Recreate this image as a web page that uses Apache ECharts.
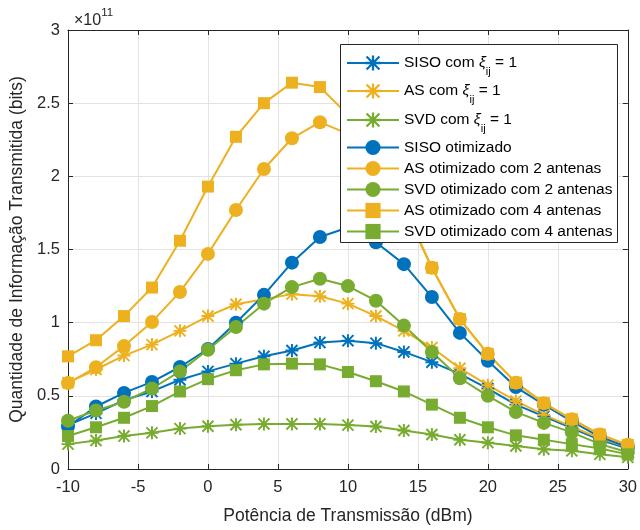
<!DOCTYPE html>
<html>
<head>
<meta charset="utf-8">
<script src="https://cdn.jsdelivr.net/npm/echarts@6/dist/echarts.min.js"></script>
<style>html,body{margin:0;padding:0;background:#fff}#c{width:640px;height:530px}</style>
</head>
<body>
<div id="c"></div>
<script>
// x values (dBm)
const xs = [-10,-8,-6,-4,-2,0,2,4,6,8,10,12,14,16,18,20,22,24,26,28,30];
// y values in units of 10^11 bits
const sisoXi  = [0.30,0.38,0.47,0.53,0.61,0.667,0.72,0.77,0.81,0.865,0.877,0.86,0.80,0.73,0.65,0.55,0.44,0.36,0.28,0.20,0.14];
const asXi    = [0.59,0.68,0.775,0.85,0.944,1.045,1.126,1.16,1.195,1.18,1.13,1.045,0.944,0.83,0.688,0.573,0.465,0.37,0.29,0.21,0.15];
const svdXi   = [0.17,0.195,0.225,0.247,0.276,0.292,0.303,0.308,0.308,0.308,0.30,0.29,0.263,0.236,0.20,0.18,0.157,0.135,0.124,0.10,0.08];
const sisoOpt = [0.29,0.427,0.52,0.595,0.697,0.82,1.0,1.19,1.41,1.585,1.65,1.55,1.40,1.175,0.93,0.74,0.56,0.44,0.326,0.22,0.15];
const asOpt2  = [0.587,0.695,0.84,1.005,1.21,1.47,1.77,2.05,2.26,2.37,2.29,2.07,1.78,1.375,1.025,0.787,0.59,0.45,0.34,0.236,0.165];
const svdOpt2 = [0.33,0.40,0.46,0.55,0.667,0.815,0.97,1.13,1.243,1.30,1.25,1.15,0.98,0.80,0.62,0.50,0.39,0.315,0.25,0.17,0.115];
const asOpt4  = [0.77,0.88,1.045,1.24,1.56,1.93,2.27,2.50,2.64,2.61,2.42,2.12,1.80,1.375,1.025,0.787,0.59,0.45,0.34,0.236,0.165];
const svdOpt4 = [0.225,0.285,0.35,0.43,0.53,0.614,0.675,0.715,0.72,0.715,0.663,0.60,0.53,0.44,0.35,0.285,0.23,0.20,0.17,0.14,0.10];

const names = [
  'SISO com ξij = 1','AS com ξij = 1','SVD com ξij = 1',
  'SISO otimizado','AS otimizado com 2 antenas','SVD otimizado com 2 antenas',
  'AS otimizado com 4 antenas','SVD otimizado com 4 antenas'
];
const datasets = [sisoXi, asXi, svdXi, sisoOpt, asOpt2, svdOpt2, asOpt4, svdOpt4];

const BLUE = '#0072BD', ORANGE = '#EDB120', GREEN = '#77AC30';
const colors = [BLUE, ORANGE, GREEN, BLUE, ORANGE, GREEN, ORANGE, GREEN];
const AST = 'path://M0 8.5H20V11.5H0Z M8.5 0H11.5V20H8.5Z M2.56 0.44L19.56 17.44L17.44 19.56L0.44 2.56Z M17.44 0.44L19.56 2.56L2.56 19.56L0.44 17.44Z';
const symbols = [AST, AST, AST, 'circle','circle','circle','rect','rect'];
const sizes = [13,13,13,14,14,14,12,12];
const FONT = '"Liberation Sans", Arial, Helvetica, sans-serif';
const TXT = '#262626';

const series = datasets.map((d, i) => ({
  name: names[i],
  type: 'line',
  data: xs.map((x, j) => [x, d[j]]),
  symbol: symbols[i],
  symbolSize: sizes[i],
  showSymbol: true,
  color: colors[i],
  lineStyle: { width: 2, color: colors[i] },
  itemStyle: { color: colors[i], borderWidth: 0 },
  emphasis: { disabled: true },
  animation: false,
  z: 2
}));

const iconCenters = [62, 90, 119, 146, 167, 188, 209, 230];
const legends = names.map((n, i) => {
  const rich = i < 3;
  return {
    data: [n],
    left: 346,
    top: rich ? iconCenters[i] - 7 : iconCenters[i] - 6.5,
    orient: 'vertical',
    itemWidth: 52,
    itemHeight: 19,
    itemGap: 0,
    padding: 0,
    selectedMode: false,
    formatter: function (name) {
      if (i === 0) return '{m|SISO com }{xi|ξ}{sub|ij}{m| = 1}';
      if (i === 1) return '{m|AS com }{xi|ξ}{sub|ij}{m| = 1}';
      if (i === 2) return '{m|SVD com }{xi|ξ}{sub|ij}{m| = 1}';
      return name;
    },
    textStyle: {
      fontSize: 15.5, color: '#000', fontFamily: FONT, padding: [0,0,0,0],
      rich: {
        m: { fontSize: 15.5, fontFamily: FONT, color: '#000', lineHeight: 28, verticalAlign: 'middle' },
        xi: { fontSize: 15.5, fontFamily: FONT, color: '#000', fontStyle: 'italic', lineHeight: 28, verticalAlign: 'middle' },
        sub: { fontSize: 11, fontFamily: FONT, color: '#000', lineHeight: 28, verticalAlign: 'bottom' }
      }
    },
    z: 5
  };
});

const chart = echarts.init(document.getElementById('c'), null, { renderer: 'canvas' });
chart.setOption({
  animation: false,
  backgroundColor: '#fff',
  textStyle: { fontFamily: FONT },
  title: {
    text: '{a|×10}{b|11}',
    left: 69, top: 2,
    textStyle: {
      fontWeight: 'normal',
      rich: {
        a: { fontSize: 16, fontWeight: 'normal', fontFamily: FONT, color: TXT, verticalAlign: 'bottom', lineHeight: 22 },
        b: { fontSize: 11.5, fontWeight: 'normal', fontFamily: FONT, color: TXT, verticalAlign: 'top', lineHeight: 22 }
      }
    }
  },
  grid: { left: 68, right: 10, top: 30, bottom: 55, show: false },
  graphic: [{
    type: 'rect', z: 4,
    shape: { x: 340.5, y: 44.5, width: 277, height: 198 },
    style: { fill: '#fff', stroke: TXT, lineWidth: 1 }
  }],
  legend: legends,
  xAxis: [{
    type: 'value', min: -10, max: 30, interval: 5, position: 'bottom',
    axisLine: { show: true, onZero: false, lineStyle: { color: TXT, width: 1 } },
    axisTick: { show: true, inside: true, length: 5, lineStyle: { color: TXT } },
    axisLabel: { fontSize: 16.5, color: TXT, margin: 10, fontFamily: FONT },
    splitLine: { show: true, lineStyle: { color: '#e3e3e3', width: 1 } },
    name: 'Potência de Transmissão (dBm)', nameLocation: 'middle', nameGap: 38,
    nameTextStyle: { fontSize: 17.5, color: TXT, fontFamily: FONT }
  }, {
    type: 'value', min: -10, max: 30, interval: 5, position: 'top',
    axisLine: { show: true, onZero: false, lineStyle: { color: TXT, width: 1 } },
    axisTick: { show: true, inside: true, length: 5, lineStyle: { color: TXT } },
    axisLabel: { show: false }, splitLine: { show: false }
  }],
  yAxis: [{
    type: 'value', min: 0, max: 3, interval: 0.5, position: 'left',
    axisLine: { show: true, onZero: false, lineStyle: { color: TXT, width: 1 } },
    axisTick: { show: true, inside: true, length: 5, lineStyle: { color: TXT } },
    axisLabel: { fontSize: 16.5, color: TXT, margin: 8, fontFamily: FONT },
    splitLine: { show: true, lineStyle: { color: '#e3e3e3', width: 1 } },
    name: 'Quantidade de Informação Transmitida (bits)', nameLocation: 'middle', nameGap: 35,
    nameTextStyle: { fontSize: 17.5, color: TXT, fontFamily: FONT }
  }, {
    type: 'value', min: 0, max: 3, interval: 0.5, position: 'right',
    axisLine: { show: true, onZero: false, lineStyle: { color: TXT, width: 1 } },
    axisTick: { show: true, inside: true, length: 5, lineStyle: { color: TXT } },
    axisLabel: { show: false }, splitLine: { show: false }
  }],
  series: series
});
</script>
</body>
</html>
